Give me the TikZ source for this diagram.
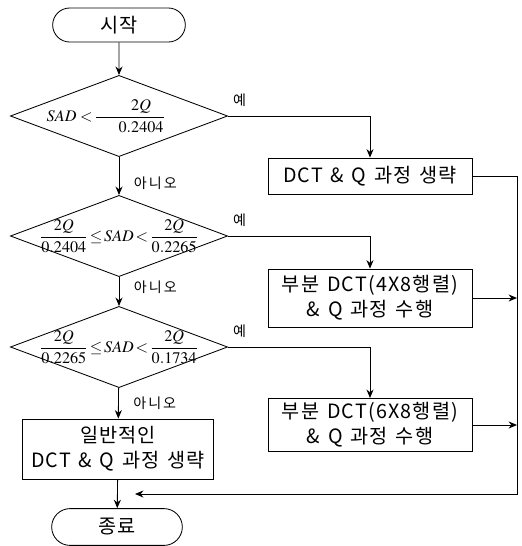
\documentclass[tikz,border=0pt]{standalone}
\usepackage{amsmath}
\usepackage{mathptmx}
\usepackage[no-math]{fontspec}
\setmainfont[LetterSpace=6,WordSpace=1.4]{Noto Sans CJK KR}
\newfontfamily\tagfont[LetterSpace=14]{Noto Sans CJK KR}
\thickmuskip=2mu

\usetikzlibrary{shapes.geometric,shapes.misc,arrows.meta}

\begin{document}
\begin{tikzpicture}[x=0.025cm,y=-0.025cm,line width=0.6pt,
	every node/.style={font=\fontsize{14}{18}\selectfont},
	term/.style={draw,rounded rectangle,minimum width=3.55cm,minimum height=0.85cm},
	decision/.style={draw,diamond,inner sep=0pt,minimum width=5.43cm,minimum height=2.03cm},
	cond/.style={font=\fontsize{11.5}{13}\selectfont,inner sep=0pt},
	proc/.style={draw,rectangle,minimum width=5.1cm,align=center,inner sep=2pt},
	tag/.style={font=\tagfont\fontsize{10}{12}\selectfont},
	flow/.style={-{Stealth[length=6pt,width=5pt]}}]
	\useasboundingbox (0,0) rectangle (521,546);
	% main column
	\node[term] (start) at (119,25) {시작};
	\node[decision] (d1) at (119,116) {};
	\node[cond] (c1) at (106,116) {$SAD\;<\dfrac{\hspace{16pt}2Q}{\hspace{16pt}0.2404}$};
	\node[decision] (d2) at (119,236) {};
	\node[cond] (c2) at (d2) {$\dfrac{2Q}{0.2404}\le SAD<\dfrac{2Q}{0.2265}$};
	\node[decision] (d3) at (119,347) {};
	\node[cond] (c3) at (d3) {$\dfrac{2Q}{0.2265}\le SAD<\dfrac{2Q}{0.1734}$};
	\node[proc,minimum width=4.78cm,minimum height=1.5cm] (gen) at (118,449) {일반적인\\DCT \& Q 과정 생략};
	\node[term,minimum width=3.5cm,minimum height=0.92cm] (stop) at (117,527) {종료};
	% right column
	\node[proc,minimum height=0.9cm] (skip) at (370,176) {DCT \& Q 과정 생략};
	\node[proc,minimum height=1.45cm] (part4) at (370,298) {부분 DCT(4X8행렬)\\\& Q 과정 수행};
	\node[proc,minimum height=1.33cm] (part6) at (370,425) {부분 DCT(6X8행렬)\\\& Q 과정 수행};
	\coordinate (bus) at (517,494);
	\coordinate (join) at (135,494);
	% connectors
	\draw[flow] (start) -- (d1);
	\draw[flow] (d1) -- node[tag,right,pos=0.7,xshift=7pt] (no1) {아니오} (d2);
	\draw[flow] (d2) -- node[tag,right,pos=0.35,xshift=7pt] (no2) {아니오} (d3);
	\draw[flow] (d3) -- node[tag,right,pos=0.5,xshift=7pt] (no3) {아니오} (gen);
	\draw[flow] (gen) -- (stop);
	\draw[flow] (d1.east) node[tag,above right,yshift=3pt] (yes1) {예} -| (skip.north);
	\draw[flow] (d2.east) node[tag,above right,yshift=3pt] (yes2) {예} -| (part4.north);
	\draw[flow] (d3.east) node[tag,above right,yshift=3pt] (yes3) {예} -| (part6.north);
	\draw[flow] (skip.east) -| (bus) -- (join);
	\draw[flow] (part4.east) -- (part4.east -| bus);
	\draw[flow] (part6.east) -- (part6.east -| bus);
\end{tikzpicture}
\end{document}
